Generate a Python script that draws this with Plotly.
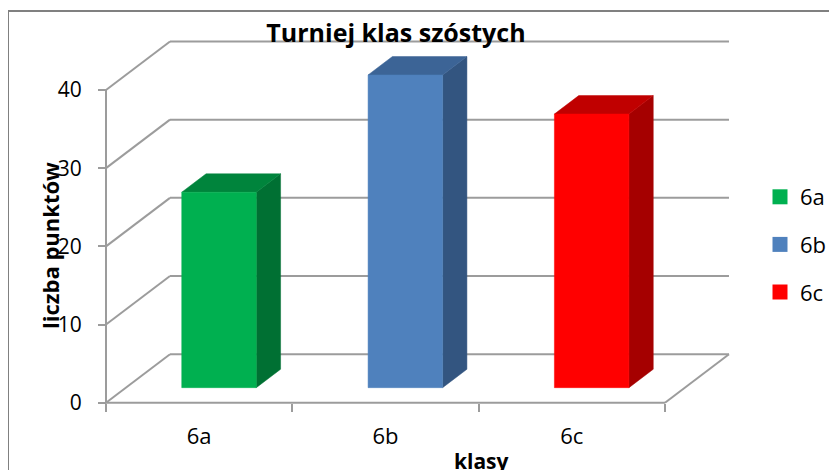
import plotly.graph_objects as go

# ---- data ----
categories = ["6a", "6b", "6c"]
values = [25, 40, 35]
y_ticks = [0, 10, 20, 30, 40]
title_text = "Turniej klas szóstych"
x_title = "klasy"
y_title = "liczba punktów"

# ---- styles ----
front_colors = ["#00B050", "#4F81BD", "#FF0000"]
top_colors = ["#00843C", "#3C6496", "#C00000"]
side_colors = ["#007033", "#335580", "#A50000"]
grid_color = "#9C9C9C"
FONT = "'Open Sans', 'Noto Sans', sans-serif"

W_FIG, H_FIG = 837, 470
OFF = 8  # page body margin of the browser


def fx(p):  # page pixel -> figure pixel
    return p - OFF


L, T = round(fx(96)), round(fx(35))
PW, PH = 644, 371
R, B = W_FIG - L - PW, H_FIG - T - PH

# pixel geometry of the front plane (page pixels)
X0_PX, Y0_PX = fx(106.0), fx(402.7)
PX_PER_CAT = 186.33
PX_PER_UNIT = 7.8175
DEPTH_DX = 64.0 / PX_PER_CAT      # oblique depth offset (category units)
DEPTH_DY = 48.5 / PX_PER_UNIT     # oblique depth offset (value units)
BAR_W = 0.4
BAR_D0, BAR_D1 = 0.31, 0.69

x_range = [(L - X0_PX) / PX_PER_CAT, (L + PW - X0_PX) / PX_PER_CAT]
y_range = [-(T + PH - Y0_PX) / PX_PER_UNIT, (Y0_PX - T) / PX_PER_UNIT]


def proj(c, v, d):
    return c + d * DEPTH_DX, v + d * DEPTH_DY


def poly(pts):
    xs, ys = zip(*[proj(*p) for p in pts])
    return list(xs) + [xs[0]], list(ys) + [ys[0]]


def px_x(p):  # page pixel -> paper x
    return (fx(p) - L) / PW


def px_y(p):  # page pixel -> paper y
    return 1 - (fx(p) - T) / PH


fig = go.Figure()

n = len(categories)
ymax = max(y_ticks)

# gridlines: left wall diagonals + back wall horizontals
gx, gy = [], []
for t in y_ticks:
    for a, b in [((0, t, 0), (0, t, 1)), ((0, t, 1), (n, t, 1))]:
        (x1, y1), (x2, y2) = proj(*a), proj(*b)
        gx += [x1, x2, None]
        gy += [y1, y2, None]
# floor front and right edges, y-axis line
for a, b in [((0, 0, 0), (n, 0, 0)), ((n, 0, 0), (n, 0, 1)), ((0, 0, 0), (0, ymax, 0))]:
    (x1, y1), (x2, y2) = proj(*a), proj(*b)
    gx += [x1, x2, None]
    gy += [y1, y2, None]
fig.add_trace(go.Scatter(x=gx, y=gy, mode="lines", line=dict(color=grid_color, width=2),
                         hoverinfo="skip", showlegend=False))

# 3D bars
for i, (cat, v) in enumerate(zip(categories, values)):
    c0, c1 = i + 0.5 - BAR_W / 2, i + 0.5 + BAR_W / 2
    d0, d1 = BAR_D0, BAR_D1
    faces = [
        ([(c1, 0, d0), (c1, 0, d1), (c1, v, d1), (c1, v, d0)], side_colors[i]),
        ([(c0, v, d0), (c1, v, d0), (c1, v, d1), (c0, v, d1)], top_colors[i]),
        ([(c0, 0, d0), (c1, 0, d0), (c1, v, d0), (c0, v, d0)], front_colors[i]),
    ]
    for pts, col in faces:
        xs, ys = poly(pts)
        fig.add_trace(go.Scatter(x=xs, y=ys, mode="lines", fill="toself", fillcolor=col,
                                 line=dict(width=0.5, color=col), hoverinfo="skip",
                                 showlegend=False))

# legend entries
for i, cat in enumerate(categories):
    fig.add_trace(go.Scatter(x=[None], y=[None], mode="markers", name=cat,
                             marker=dict(symbol="square", size=15, color=front_colors[i]),
                             legendgroup=cat))

fig.update_layout(
    width=W_FIG, height=H_FIG,
    margin=dict(l=L, r=R, t=T, b=B, autoexpand=False),
    paper_bgcolor="white", plot_bgcolor="white",
    font=dict(family=FONT, color="black", size=21),
    title=dict(text="<b>" + title_text + "</b>", x=fx(396) / W_FIG, y=1 - fx(33) / H_FIG,
               xref="container", yref="container",
               xanchor="center", yanchor="middle", font=dict(size=25, family=FONT)),
    xaxis=dict(range=x_range, anchor="free", position=(T + PH - Y0_PX) / PH,
               tickvals=[i + 0.5 for i in range(n)], ticktext=categories, ticks="",
               showgrid=False, zeroline=False, showline=False, ticklabelstandoff=18,
               tickfont=dict(size=22),
               minor=dict(tickvals=list(range(n + 1)), ticks="outside", ticklen=8,
                          tickwidth=2, tickcolor=grid_color, showgrid=False)),
    yaxis=dict(range=y_range, anchor="free", position=(X0_PX - L) / PW,
               tickvals=y_ticks, ticks="outside", ticklen=8, tickwidth=2,
               tickcolor=grid_color, showgrid=False, zeroline=False, showline=False,
               ticklabelstandoff=12, tickfont=dict(size=21)),
    legend=dict(x=px_x(760), y=px_y(176), xanchor="left", yanchor="top",
                font=dict(size=22), tracegroupgap=16, itemwidth=30,
                bgcolor="rgba(0,0,0,0)"),
    showlegend=True,
    annotations=[
        dict(text="<b>" + x_title + "</b>", xref="paper", yref="paper",
             x=px_x(481), y=px_y(461), xanchor="center", yanchor="middle",
             showarrow=False, font=dict(size=21)),
        dict(text="<b>" + y_title + "</b>", xref="paper", yref="paper",
             x=px_x(50), y=px_y(246), xanchor="center", yanchor="middle",
             textangle=-90, showarrow=False, font=dict(size=22)),
    ],
    shapes=[dict(type="rect", xref="paper", yref="paper",
                 x0=px_x(8), x1=px_x(870), y0=px_y(11), y1=px_y(500),
                 line=dict(color="#808080", width=2), fillcolor="rgba(0,0,0,0)")],
)

fig.write_html("out.html")
